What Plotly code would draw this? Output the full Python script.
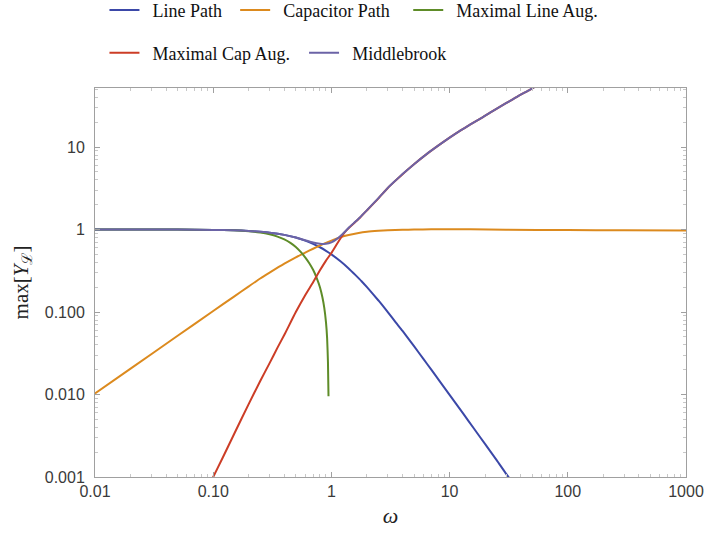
import plotly.graph_objects as go
import math

# ---- data (omega, max[Y_L]) ----
line_w = [0.01, 0.05, 0.1, 0.15, 0.2, 0.25, 0.3, 0.4, 0.5, 0.6, 0.7, 0.8, 0.9, 1.0, 1.2, 1.4, 1.6, 1.8, 2.0, 2.5, 3.0, 3.5, 4, 5, 6, 7, 8, 10, 13, 16, 20, 25, 30, 40]
line_v = [1.0, 0.998, 0.99, 0.978, 0.962, 0.94, 0.917, 0.862, 0.80, 0.735, 0.671, 0.61, 0.552, 0.50, 0.41, 0.338, 0.28, 0.236, 0.20, 0.138, 0.10, 0.075, 0.059, 0.0385, 0.027, 0.020, 0.0154, 0.0099, 0.0059, 0.0039, 0.0025, 0.0016, 0.0011, 0.00063]

cap_w = [0.01, 0.02, 0.05, 0.1, 0.15, 0.2, 0.25, 0.3, 0.4, 0.5, 0.6, 0.7, 0.8, 0.9, 1.0, 1.2, 1.4, 1.7, 2.0, 2.5, 3, 4, 5, 7, 10, 15, 30, 100, 300, 1000]
cap_v = [0.0103, 0.0206, 0.0515, 0.103, 0.154, 0.205, 0.255, 0.30, 0.385, 0.46, 0.525, 0.585, 0.64, 0.69, 0.735, 0.81, 0.86, 0.91, 0.94, 0.965, 0.98, 0.993, 1.0, 1.008, 1.01, 1.005, 0.995, 0.985, 0.978, 0.975]

mla_w = [0.01, 0.05, 0.1, 0.15, 0.2, 0.25, 0.3, 0.35, 0.4, 0.45, 0.5, 0.55, 0.6, 0.65, 0.7, 0.75, 0.8, 0.84, 0.87, 0.9, 0.92, 0.935, 0.945]
mla_v = [1.0, 0.998, 0.99, 0.978, 0.955, 0.92, 0.875, 0.82, 0.76, 0.69, 0.615, 0.535, 0.46, 0.39, 0.325, 0.26, 0.20, 0.15, 0.113, 0.075, 0.048, 0.025, 0.0095]

mca_w = [0.09, 0.1, 0.12, 0.15, 0.2, 0.25, 0.3, 0.35, 0.4, 0.5, 0.6, 0.7, 0.8, 0.9, 1.0, 1.1, 1.2, 1.3, 1.43, 1.6, 1.75, 2.0, 2.5, 3.0, 3.36, 4.0, 5.0, 6.43, 8, 10, 12.3, 15, 19, 23.5, 30, 38, 48, 60]
mca_v = [0.00073, 0.001, 0.0017, 0.0033, 0.0077, 0.0146, 0.024, 0.037, 0.053, 0.10, 0.16, 0.23, 0.32, 0.42, 0.52, 0.65, 0.79, 0.93, 1.07, 1.24, 1.40, 1.71, 2.39, 3.19, 3.73, 4.69, 6.19, 8.26, 10.4, 13, 15.8, 18.8, 22.9, 27.7, 34, 41.5, 49.8, 60]

mb_w = [0.01, 0.05, 0.1, 0.15, 0.2, 0.25, 0.3, 0.4, 0.5, 0.6, 0.7, 0.8, 0.9, 1.0, 1.1, 1.2, 1.3, 1.43, 1.6, 1.75, 2.0, 2.5, 3.0, 3.36, 4.0, 5.0, 6.43, 8, 10, 12.3, 15, 19, 23.5, 30, 38, 48, 60]
mb_v = [1.0, 0.998, 0.99, 0.978, 0.962, 0.94, 0.917, 0.862, 0.80, 0.74, 0.695, 0.673, 0.672, 0.70, 0.76, 0.84, 0.94, 1.08, 1.25, 1.41, 1.72, 2.4, 3.2, 3.74, 4.7, 6.2, 8.27, 10.4, 13, 15.8, 18.8, 22.9, 27.7, 34, 41.5, 49.8, 60]

names = ["Line Path", "Capacitor Path", "Maximal Line Aug.", "Maximal Cap Aug.", "Middlebrook"]
colors = ["#3b48a8", "#dc8a1e", "#5e8c28", "#cc3d26", "#6b63a6"]
legend_ids = ["legend", "legend", "legend", "legend2", "legend2"]

x_tickvals = [0.01, 0.1, 1, 10, 100, 1000]
x_ticktext = ["0.01", "0.10", "1", "10", "100", "1000"]
y_tickvals = [0.001, 0.01, 0.1, 1, 10]
y_ticktext = ["0.001", "0.010", "0.100", "1", "10"]

series = [(line_w, line_v), (cap_w, cap_v), (mla_w, mla_v), (mca_w, mca_v), (mb_w, mb_v)]

NB = "\u00a0"
TH = "\u2009"
lead = NB + TH
trail = [NB + TH, NB * 3, "", NB * 2, ""]

fig = go.Figure()
for (w, v), name, col, lg, tr in zip(series, names, colors, legend_ids, trail):
    fig.add_trace(go.Scatter(
        x=w, y=v, mode="lines", name=lead + name + tr,
        line=dict(color=col, width=2, shape="spline", smoothing=0.5),
        legend=lg,
    ))

frame = "#a0a0a0"
legend_font = dict(family="Liberation Serif", size=18, color="#111")
fig.update_layout(
    width=707, height=538,
    margin=dict(l=95, r=21, t=88, b=61, autoexpand=False),
    paper_bgcolor="white", plot_bgcolor="white",
    legend=dict(orientation="h", x=0.016, xanchor="left", y=1.2, yanchor="middle",
                font=legend_font, bgcolor="rgba(0,0,0,0)", itemwidth=30),
    legend2=dict(orientation="h", x=0.016, xanchor="left", y=1.09, yanchor="middle",
                 font=legend_font, bgcolor="rgba(0,0,0,0)", itemwidth=30),
    xaxis=dict(type="log", range=[-2, 3], tickvals=x_tickvals, ticktext=x_ticktext,
               showgrid=False, zeroline=False, showline=True, linecolor=frame, linewidth=1,
               mirror="allticks", ticks="inside", ticklen=5, tickcolor=frame,
               minor=dict(ticks="inside", ticklen=3, tickcolor="#c8c8c8", dtick="D1", showgrid=False),
               tickfont=dict(family="Liberation Sans", size=16, color="#3a3a3a"),
               ticklabelstandoff=0,
               title=dict(text="<i>ω</i>", font=dict(family="Liberation Serif", size=22, color="#222"),
                          standoff=8)),
    yaxis=dict(type="log", range=[-3, math.log10(52)], tickvals=y_tickvals, ticktext=y_ticktext,
               showgrid=False, zeroline=False, showline=True, linecolor=frame, linewidth=1,
               mirror="allticks", ticks="inside", ticklen=5, tickcolor=frame,
               minor=dict(ticks="inside", ticklen=3, tickcolor="#c8c8c8", dtick="D1", showgrid=False),
               tickfont=dict(family="Liberation Sans", size=16, color="#3a3a3a"),
               ticklabelstandoff=6,
               title=dict(text="max[<i>Y</i><sub><span style=\"font-family:'DejaVu Serif'\">ℒ</span></sub>]",
                          font=dict(family="Liberation Serif", size=21, color="#222"),
                          standoff=10)),
)

fig.write_html("out.html")
